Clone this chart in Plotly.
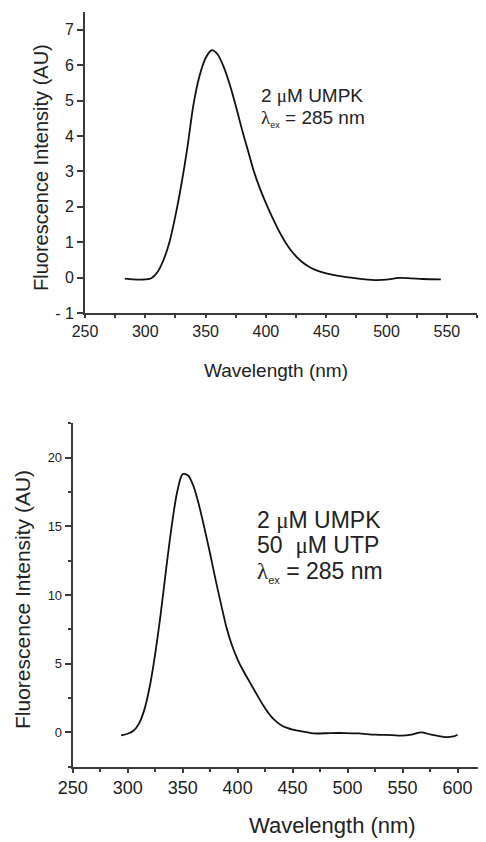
import plotly.graph_objects as go

# Espectro 1: 2 uM UMPK
wl_umpk = [283, 290, 300, 305, 310, 315, 320, 325, 330, 335, 340, 345, 350, 355,
           360, 365, 370, 375, 380, 385, 390, 395, 400, 405, 410, 415, 420, 425,
           430, 435, 440, 445, 450, 460, 475, 490, 500, 510, 520, 530, 545]
int_umpk = [-0.03, -0.05, -0.05, -0.02, 0.15, 0.49, 1.0, 1.75, 2.65, 3.7, 4.9, 5.7,
            6.2, 6.42, 6.3, 5.95, 5.45, 4.85, 4.2, 3.6, 3.0, 2.52, 2.1, 1.72, 1.37,
            1.06, 0.8, 0.6, 0.44, 0.32, 0.23, 0.17, 0.12, 0.05, -0.02, -0.07, -0.06,
            -0.01, -0.02, -0.04, -0.05]

# Espectro 2: 2 uM UMPK + 50 uM UTP
wl_utp = [294, 300, 305, 310, 315, 320, 325, 330, 335, 340, 345, 350, 355, 360,
          365, 370, 375, 380, 385, 390, 395, 400, 405, 410, 415, 420, 425, 430,
          435, 440, 445, 450, 460, 470, 485, 498, 510, 525, 540, 549, 558, 567,
          576, 588, 596, 600]
int_utp = [-0.22, -0.1, 0.1, 0.6, 1.6, 3.3, 5.7, 8.6, 11.9, 15.0, 17.5, 18.8, 18.7,
           17.9, 16.5, 14.8, 13.0, 11.1, 9.3, 7.6, 6.3, 5.3, 4.5, 3.8, 3.1, 2.4,
           1.75, 1.2, 0.8, 0.5, 0.32, 0.2, 0.05, -0.08, -0.05, -0.05, -0.08, -0.17,
           -0.2, -0.24, -0.17, 0.0, -0.17, -0.34, -0.3, -0.17]

top_xticks = [250, 300, 350, 400, 450, 500, 550]
top_yticks = [-1, 0, 1, 2, 3, 4, 5, 6, 7]
top_yticktext = ["- 1", "0", "1", "2", "3", "4", "5", "6", "7"]
bot_xticks = [250, 300, 350, 400, 450, 500, 550, 600]
bot_yticks = [0, 5, 10, 15, 20]

AXIS = "#3a3a3a"
TEXT = "#222222"
FONT = "Liberation Sans, Arial, sans-serif"
SERIF = "Liberation Serif, Times New Roman, serif"

# a página tem margem de 8px no body: a figura começa em (8, 8)
OFF = 8
W, H = 486 - OFF, 842 - OFF


def px(x):
    return (x - OFF) / W


def py(y):
    return 1 - (y - OFF) / H


def _axis(rng, ticks, domain, anchor, size, ticktext=None, minor=None, ticklen=6):
    ax = dict(
        range=rng, domain=domain, anchor=anchor, automargin=False,
        tickvals=ticks, ticktext=ticktext,
        showgrid=False, zeroline=False,
        showline=True, linecolor=AXIS, linewidth=2,
        ticks="outside", ticklen=ticklen, tickwidth=1.5, tickcolor=AXIS,
        tickfont=dict(size=size, color=TEXT, family=FONT),
    )
    if minor:
        ax["minor"] = dict(tickvals=minor, ticks="outside", ticklen=3,
                           tickwidth=1.5, tickcolor=AXIS)
    return ax


fig = go.Figure()

fig.add_trace(go.Scatter(
    x=wl_umpk, y=int_umpk, mode="lines", xaxis="x", yaxis="y",
    line=dict(color="#111111", width=1.8, shape="spline", smoothing=0.8),
    showlegend=False,
))
fig.add_trace(go.Scatter(
    x=wl_utp, y=int_utp, mode="lines", xaxis="x2", yaxis="y2",
    line=dict(color="#111111", width=1.8, shape="spline", smoothing=0.8),
    showlegend=False,
))

mu = f'<span style="font-family:{SERIF}">\u03bc</span>'
lam = f'<span style="font-family:{SERIF}">\u03bb</span>'
ex_s = '<sub><span style="font-size:9px">ex</span></sub>'
ex_b = '<sub><span style="font-size:11px">ex</span></sub>'

annotations = [
    # painel superior
    dict(text=f"2 {mu}M UMPK", x=px(259), y=py(95), font=dict(size=19)),
    dict(text=f"{lam}{ex_s} = 285 nm", x=px(259), y=py(118), font=dict(size=19)),
    dict(text="Wavelength (nm)", x=px(276), y=py(370), xanchor="center",
         font=dict(size=19)),
    dict(text="Fluorescence Intensity (AU)", x=px(41), y=py(168), xanchor="center",
         textangle=-90, font=dict(size=20)),
    # painel inferior
    dict(text=f"2 {mu}M UMPK", x=px(255), y=py(520), font=dict(size=23)),
    dict(text=f"50  {mu}M UTP", x=px(255), y=py(545), font=dict(size=23)),
    dict(text=f"{lam}{ex_b} = 285 nm", x=px(255), y=py(572), font=dict(size=23)),
    dict(text="Wavelength (nm)", x=px(332), y=py(825), xanchor="center",
         font=dict(size=22)),
    dict(text="Fluorescence Intensity (AU)", x=px(22), y=py(600), xanchor="center",
         textangle=-90, font=dict(size=21)),
]
for a in annotations:
    a.setdefault("xanchor", "left")
    a["font"].update(color=TEXT, family=FONT)
    a.update(xref="paper", yref="paper", yanchor="middle", showarrow=False)

fig.update_layout(
    width=W, height=H,
    margin=dict(l=0, r=0, t=0, b=0),
    paper_bgcolor="white", plot_bgcolor="white",
    font=dict(family=FONT, color=TEXT),
    xaxis=_axis([250, 575], top_xticks, [px(85), px(477)], "y", 16,
                minor=[275, 325, 375, 425, 475, 525, 575], ticklen=3),
    yaxis=_axis([-1, 7.5], top_yticks, [py(313), py(12)], "x", 16,
                ticktext=top_yticktext),
    xaxis2=_axis([250, 625], bot_xticks, [px(72.7), px(485)], "y2", 18,
                 minor=[275, 325, 375, 425, 475, 525, 575, 625], ticklen=4),
    yaxis2=_axis([-2.5, 22.5], bot_yticks, [py(766.7), py(423.3)], "x2", 13,
                 minor=[-2.5, 2.5, 7.5, 12.5, 17.5, 22.5]),
    annotations=annotations,
)

fig.write_html("out.html")
